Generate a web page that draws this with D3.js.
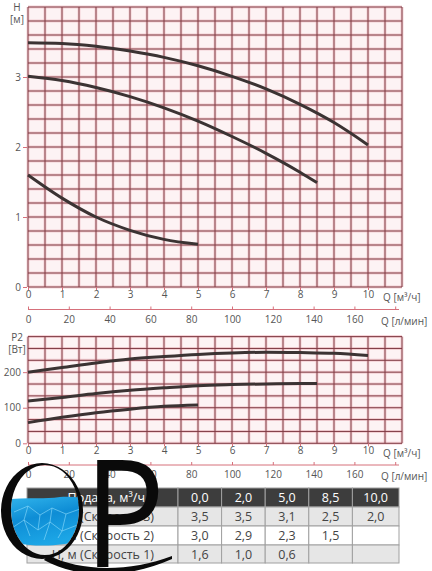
<!DOCTYPE html>
<meta charset="utf-8">
<style>
body { margin: 0; background: #fff; }
text { font-family: "Open Sans", sans-serif; fill: #555; }
.tick text { font-size: 10px; }
.cell { font-size: 12.5px; }
</style>
<svg width="432" height="571"></svg>
<script src="https://cdnjs.cloudflare.com/ajax/libs/d3/7.8.5/d3.min.js"></script>
<script>

// flow points of the curves, m3/h
var flowH3 = [0, 1, 2, 3, 4, 5, 6, 7, 8, 9, 10],
    flowH2 = [0, 1, 2, 3, 4, 5, 6, 7, 8, 8.5],
    flowH1 = [0, 1, 2, 3, 4, 5];

// head, m (speed 3, 2, 1)
var head3 = [3.49, 3.48, 3.44, 3.37, 3.28, 3.16, 3.01, 2.83, 2.61, 2.35, 2.03],
    head2 = [3.01, 2.95, 2.85, 2.72, 2.56, 2.37, 2.15, 1.91, 1.64, 1.49],
    head1 = [1.60, 1.27, 1.00, 0.81, 0.68, 0.61];

// power P2, W (speed 3, 2, 1)
var power3 = [200, 213, 226, 237, 244, 250, 254, 256, 255, 253, 247],
    power2 = [119, 129, 140, 149, 156, 162, 165, 167, 168, 168],
    power1 = [58, 73, 86, 96, 104, 108];

var qTicks = [0, 1, 2, 3, 4, 5, 6, 7, 8, 9, 10],
    lminTicks = [0, 20, 40, 60, 80, 100, 120, 140, 160, 180],
    headTicks = [0, 1, 2, 3],
    powerTicks = [0, 100, 200];

// table
var tableHead = ["Подача, м³/ч", "0,0", "2,0", "5,0", "8,5", "10,0"],
    tableRows = [
      ["H, м (Скорость 3)", "3,5", "3,5", "3,1", "2,5", "2,0"],
      ["H, м (Скорость 2)", "3,0", "2,9", "2,3", "1,5", ""],
      ["H, м (Скорость 1)", "1,6", "1,0", "0,6", "", ""]
    ];

var svg = d3.select("svg");

var gridColor = "#7f3a43",
    glowColor = "#efb9c0",
    axisColor = "#d6707b",
    curveColor = "#3b3333";

var x = d3.scaleLinear().domain([0, 11]).range([28, 402]);
var xl = d3.scaleLinear().domain([0, 11 * 1000 / 60]).range([28, 402]);

function panel(y, yStep, yTickVals, top, bottom, q2y, unit1, unit2) {
  var g = svg.append("g");
  g.append("rect")
      .attr("x", x(0)).attr("y", top)
      .attr("width", x(11) - x(0)).attr("height", bottom - top)
      .attr("fill", "#fdf3f4");

  var vx = d3.range(0, 11.01, 0.5),
      hy = d3.range(0, 1e-6 + y.domain()[1] / yStep).map(function(i) { return i * yStep; });

  [[glowColor, 3, 0.6], [gridColor, 1, 1]].forEach(function(s) {
    g.selectAll(null).data(vx).enter().append("line")
        .attr("x1", x).attr("x2", x)
        .attr("y1", top).attr("y2", bottom)
        .attr("stroke", s[0]).attr("stroke-width", s[1]).attr("opacity", s[2]);
    g.selectAll(null).data(hy).enter().append("line")
        .attr("x1", x(0)).attr("x2", x(11))
        .attr("y1", y).attr("y2", y)
        .attr("stroke", s[0]).attr("stroke-width", s[1]).attr("opacity", s[2]);
  });

  // left axis
  var ya = g.append("g")
      .attr("transform", "translate(" + (x(0) - 1) + ",0)")
      .call(d3.axisLeft(y).tickValues(yTickVals).tickFormat(d3.format("d")).tickSize(4).tickPadding(2));
  ya.select(".domain").remove();
  ya.selectAll(".tick line").attr("stroke", axisColor);

  // m3/h axis
  var xa = g.append("g")
      .attr("transform", "translate(0," + bottom + ")")
      .call(d3.axisBottom(x).tickValues(qTicks).tickSize(3).tickPadding(1));
  xa.select(".domain").remove();
  xa.selectAll(".tick line").attr("stroke", axisColor);

  // l/min axis
  var la = g.append("g")
      .attr("transform", "translate(0," + q2y + ")")
      .call(d3.axisTop(xl).tickValues(lminTicks).tickSize(3));
  la.select(".domain").attr("d", "M" + x(0) + ",0H" + (x(11) - 3)).attr("stroke", axisColor);
  la.selectAll(".tick line").attr("stroke", axisColor);
  la.selectAll(".tick text").attr("y", 6).attr("dy", "0.71em")
      .text(function(d) { return d > 160 ? "" : d; });

  g.append("text").attr("x", 383).attr("y", bottom + 14).attr("font-size", 10).text("Q [м³/ч]");
  g.append("text").attr("x", 381).attr("y", q2y + 15).attr("font-size", 10).text("Q [л/мин]");
  g.append("text").attr("x", 17).attr("y", top + 4).attr("font-size", 10)
      .attr("text-anchor", "middle").text(unit1);
  g.append("text").attr("x", 17).attr("y", top + 16).attr("font-size", 10)
      .attr("text-anchor", "middle").text(unit2);
  return g;
}

function curve(g, y, qs, vs) {
  var line = d3.line()
      .x(function(d) { return x(d[0]); })
      .y(function(d) { return y(d[1]); })
      .curve(d3.curveMonotoneX);
  g.append("path")
      .attr("d", line(d3.zip(qs, vs)))
      .attr("fill", "none")
      .attr("stroke", curveColor)
      .attr("stroke-width", 3)
      .attr("stroke-linecap", "butt");
}

// head chart
var yH = d3.scaleLinear().domain([0, 4]).range([287, 7]);
var gH = panel(yH, 0.2, headTicks, 7, 287, 309.5, "H", "[м]");
curve(gH, yH, flowH3, head3);
curve(gH, yH, flowH2, head2);
curve(gH, yH, flowH1, head1);

// power chart
var yP = d3.scaleLinear().domain([0, 300]).range([443.3, 336.6]);
var gP = panel(yP, 100 / 3, powerTicks, 336.6, 443.3, 465, "P2", "[Вт]");
curve(gP, yP, flowH3, power3);
curve(gP, yP, flowH2, power2);
curve(gP, yP, flowH1, power1);

// table
var colX = [27, 178, 221.6, 265.2, 308.8, 352.4, 399],
    rowY = [488, 507, 526, 545, 563];
var tb = svg.append("g");
var allRows = [tableHead].concat(tableRows);
allRows.forEach(function(row, r) {
  var fill = r === 0 ? "#3d3d3d" : (r === 2 ? "#ffffff" : "#e6e6e6");
  row.forEach(function(v, c) {
    tb.append("rect")
        .attr("x", colX[c]).attr("y", rowY[r])
        .attr("width", colX[c + 1] - colX[c]).attr("height", rowY[r + 1] - rowY[r])
        .attr("fill", fill).attr("stroke", "#a0a0a0").attr("stroke-width", 1);
    tb.append("text")
        .attr("class", "cell")
        .attr("x", c === 0 ? (r === 0 ? 145 : 154) : (colX[c] + colX[c + 1]) / 2)
        .attr("y", (rowY[r] + rowY[r + 1]) / 2)
        .attr("dy", "0.36em")
        .attr("text-anchor", c === 0 ? "end" : "middle")
        .style("fill", r === 0 ? "#fff" : "#444")
        .text(v);
  });
});

// logo
var defs = svg.append("defs");
var grad = defs.append("linearGradient").attr("id", "water")
    .attr("x1", 0).attr("y1", 0).attr("x2", 0.4).attr("y2", 1);
grad.append("stop").attr("offset", "0").attr("stop-color", "#35b8ee");
grad.append("stop").attr("offset", "0.5").attr("stop-color", "#0e8dd5");
grad.append("stop").attr("offset", "1").attr("stop-color", "#1ca6e6");
defs.append("clipPath").attr("id", "qin").append("ellipse")
    .attr("cx", 45).attr("cy", 510).attr("rx", 34).attr("ry", 45);

var logo = svg.append("g");
var water = logo.append("g").attr("clip-path", "url(#qin)");
water.append("path")
    .attr("d", "M0,501 C20,496 40,500 60,497 C70,496 80,498 90,497 L90,536 C70,548 30,548 0,540 Z")
    .attr("fill", "url(#water)");
// light ripples
[
  "M14,512 L28,506 L40,515 L52,508 L66,514 L80,509",
  "M12,528 L24,520 L38,530 L50,522 L62,531 L80,524",
  "M28,506 L24,520 M40,515 L38,530 M52,508 L50,522 M66,514 L62,531",
  "M24,520 L30,536 M50,522 L44,540 M62,531 L58,538"
].forEach(function(d) {
  water.append("path").attr("d", d).attr("fill", "none")
      .attr("stroke", "#8fdcfb").attr("stroke-width", 1).attr("opacity", 0.6);
});
logo.append("path")
    .attr("fill-rule", "evenodd")
    .attr("fill", "#0a0a0a")
    .attr("d", "M42,463 A41,48 0 1 0 42.01,463 Z M45,465 A34,45 0 1 1 44.99,465 Z");
logo.append("path")
    .attr("fill", "#0a0a0a")
    .attr("d", "M48,555 C80,572 130,572 172,556 L172,559 C130,578 80,580 44,560 Z");
logo.append("text")
    .attr("transform", "translate(84,567) scale(0.9,1)")
    .attr("font-family", "Liberation Serif")
    .attr("font-size", 150)
    .style("fill", "#0a0a0a")
    .text("P");

</script>
